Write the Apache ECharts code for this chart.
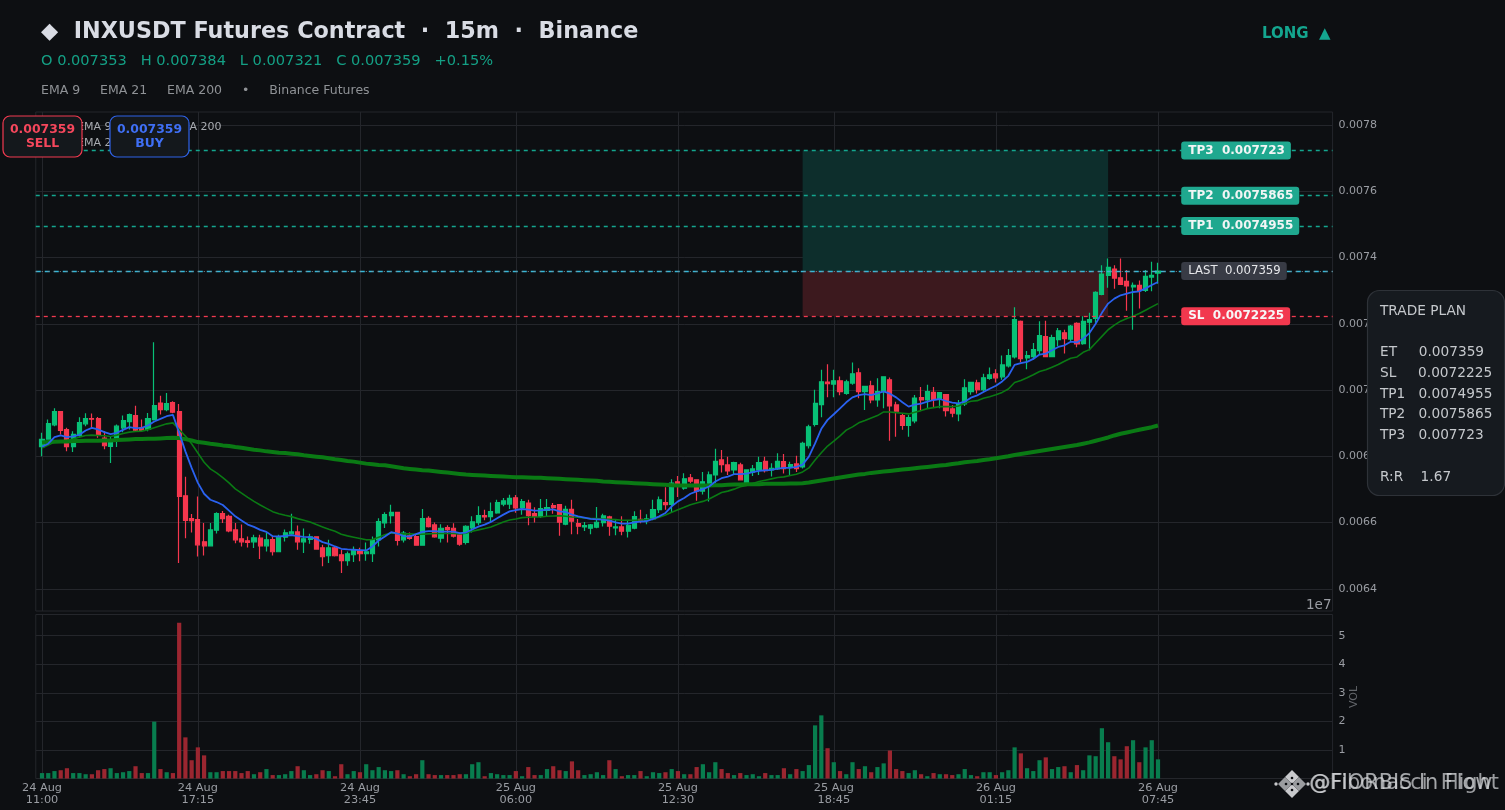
<!DOCTYPE html>
<html><head><meta charset="utf-8">
<style>html,body{margin:0;padding:0;background:#0d0f12}#c{width:1505px;height:810px}</style>
<script src="https://cdn.jsdelivr.net/npm/echarts@6/dist/echarts.min.js"></script>
</head><body><div id="c"></div>
<script>
// prices in millionths of USDT (1e-6), volumes in units of 1e7
const opens=[6829,6852,6895,6935,6881,6829,6863,6898,6914,6914,
6855,6830,6855,6886,6905,6923,6886,6881,6911,6961,
6941,6962,6935,6681,6612,6609,6542,6530,6577,6627,
6619,6578,6551,6545,6542,6553,6530,6549,6512,6556,
6566,6572,6542,6549,6557,6524,6500,6524,6503,6485,
6503,6514,6506,6506,6548,6599,6621,6631,6548,6560,
6558,6532,6613,6593,6553,6585,6583,6563,6540,6584,
6600,6621,6618,6629,6656,6656,6675,6645,6659,6627,
6619,6637,6651,6654,6595,6640,6597,6587,6583,6586,
6600,6617,6584,6587,6574,6583,6610,6607,6611,6639,
6660,6655,6723,6704,6735,6729,6695,6719,6744,6789,
6774,6759,6774,6721,6752,6759,6785,6759,6762,6784,
6768,6777,6768,6832,6896,6956,7024,7018,7028,6990,
7021,7052,6995,7013,6970,6995,7031,6955,6923,6893,
6907,6977,6970,6993,6972,6986,6943,6928,6958,6995,
7022,7001,7035,7049,7040,7073,7100,7207,7097,7101,
7119,7161,7101,7152,7173,7154,7201,7140,7205,7216,
7289,7346,7365,7339,7328,7311,7316,7301,7341,7353];
const closes=[6851,6899,6935,6878,6829,6866,6902,6914,6912,6866,
6832,6842,6891,6908,6926,6879,6878,6914,6953,6941,
6959,6933,6679,6607,6606,6533,6530,6578,6627,6612,
6575,6548,6542,6540,6554,6530,6548,6512,6556,6569,
6572,6542,6551,6557,6520,6497,6524,6500,6485,6506,
6516,6506,6512,6548,6603,6624,6631,6546,6568,6552,
6532,6612,6588,6557,6583,6579,6559,6535,6589,6602,
6621,6617,6633,6660,6666,6673,6644,6663,6621,6619,
6642,6645,6645,6601,6640,6604,6589,6591,6593,6601,
6620,6589,6587,6574,6592,6618,6607,6611,6639,6669,
6654,6719,6712,6732,6725,6695,6723,6744,6785,6775,
6756,6781,6729,6759,6762,6781,6757,6764,6785,6763,
6775,6763,6839,6889,6960,7025,7019,7028,6995,7025,
7049,6995,7011,6970,6995,7040,6952,6936,6893,6917,
6976,6970,6995,6972,6992,6938,6930,6958,7007,7023,
7001,7037,7046,7037,7076,7104,7213,7095,7104,7122,
7164,7101,7158,7179,7155,7193,7139,7207,7213,7295,
7350,7370,7338,7319,7314,7316,7301,7343,7346,7359];
const highs=[6871,6911,6945,6935,6886,6876,6918,6930,6929,6919,
6876,6860,6896,6923,6929,6953,6911,6931,7144,6983,
6991,6966,6958,6738,6626,6679,6599,6599,6631,6635,
6624,6599,6594,6558,6563,6563,6569,6558,6563,6579,
6627,6591,6582,6566,6558,6533,6548,6526,6518,6513,
6528,6524,6540,6558,6613,6631,6654,6631,6575,6570,
6565,6641,6619,6600,6595,6592,6598,6570,6592,6619,
6649,6639,6661,6669,6674,6684,6683,6671,6669,6646,
6671,6671,6659,6654,6651,6669,6611,6602,6596,6647,
6627,6621,6609,6619,6605,6634,6639,6625,6669,6679,
6707,6731,6741,6749,6747,6731,6753,6754,6823,6819,
6799,6784,6781,6761,6774,6799,6799,6779,6809,6807,
6784,6802,6844,6895,7001,7061,7078,7061,7041,7031,
7083,7066,7013,7028,7036,7040,7038,6965,6930,6925,
6985,7009,7016,7009,6992,6988,6955,6970,7033,7023,
7031,7049,7068,7063,7104,7124,7250,7210,7118,7142,
7208,7209,7167,7187,7182,7196,7205,7223,7233,7298,
7377,7397,7377,7397,7362,7325,7331,7362,7387,7384];
const lows=[6800,6850,6891,6866,6815,6813,6858,6891,6886,6856,
6821,6780,6828,6873,6881,6876,6876,6876,6908,6926,
6936,6930,6478,6553,6570,6498,6501,6528,6567,6599,
6571,6538,6528,6525,6523,6490,6513,6501,6511,6543,
6563,6518,6508,6536,6518,6468,6478,6498,6448,6470,
6481,6483,6485,6481,6528,6584,6597,6531,6540,6548,
6530,6530,6585,6554,6540,6540,6555,6530,6534,6570,
6592,6607,6602,6627,6649,6641,6630,6624,6592,6600,
6614,6620,6627,6560,6592,6565,6565,6575,6565,6583,
6588,6560,6562,6562,6555,6580,6598,6595,6607,6629,
6639,6631,6677,6699,6719,6666,6685,6664,6719,6751,
6744,6744,6727,6714,6741,6744,6751,6739,6759,6748,
6743,6753,6763,6824,6890,6918,6978,6978,6984,6986,
7016,6975,6940,6960,6950,6945,6847,6859,6880,6859,
6900,6940,6945,6948,6945,6920,6918,6906,6952,6986,
6990,6996,7031,7023,7031,7068,7095,7084,7063,7092,
7107,7100,7100,7132,7110,7147,7129,7137,7120,7203,
7286,7309,7306,7318,7239,7182,7246,7296,7298,7321];
const volumes=[.19,.19,.26,.29,.36,.19,.19,.15,.15,.29,
.33,.36,.19,.22,.26,.43,.19,.19,1.99,.33,
.22,.19,5.45,1.44,.64,1.09,.81,.22,.22,.26,
.26,.26,.19,.26,.15,.22,.33,.12,.12,.15,
.26,.43,.29,.12,.15,.29,.26,.08,.5,.15,
.26,.22,.5,.29,.4,.29,.26,.29,.15,.08,
.15,.64,.15,.12,.12,.12,.12,.15,.15,.5,
.57,.08,.19,.15,.12,.12,.26,.08,.4,.12,
.12,.33,.43,.29,.26,.6,.29,.12,.15,.22,
.12,.64,.33,.08,.12,.12,.26,.08,.22,.19,
.22,.33,.26,.15,.15,.4,.5,.22,.57,.33,
.19,.12,.19,.12,.15,.08,.19,.12,.12,.36,
.15,.33,.26,.47,1.86,2.21,1.06,.57,.26,.15,
.57,.33,.43,.22,.4,.53,.98,.33,.26,.19,
.29,.15,.08,.19,.15,.15,.12,.15,.33,.12,
.08,.22,.22,.12,.22,.29,1.09,.88,.36,.26,
.64,.74,.33,.4,.43,.22,.47,.29,.81,.78,
1.76,1.27,.78,.67,1.13,1.34,.57,1.09,1.34,.67];
const ema9=[6829,6838,6858,6863,6858,6860,6865,6878,6886,6881,
6873,6867,6871,6880,6888,6885,6886,6893,6905,6913,
6921,6925,6871,6815,6765,6720,6687,6669,6662,6653,
6636,6619,6606,6594,6587,6578,6572,6559,6558,6560,
6562,6559,6557,6556,6551,6541,6536,6528,6521,6519,
6518,6517,6516,6528,6546,6558,6571,6567,6559,6558,
6565,6572,6574,6574,6573,6573,6573,6568,6570,6579,
6588,6594,6602,6613,6624,6634,6638,6641,6639,6636,
6637,6639,6640,6634,6632,6624,6619,6615,6611,6610,
6609,6606,6601,6597,6597,6601,6603,6604,6611,6619,
6629,6649,6664,6674,6687,6694,6701,6709,6724,6734,
6739,6746,6746,6748,6752,6756,6758,6759,6763,6765,
6765,6768,6775,6799,6839,6883,6910,6927,6945,6963,
6978,6985,6988,6985,6990,6996,6989,6978,6963,6950,
6956,6959,6965,6970,6973,6967,6962,6960,6965,6977,
6984,6994,7004,7013,7026,7043,7076,7081,7085,7094,
7107,7110,7120,7130,7135,7146,7144,7155,7172,7200,
7233,7261,7276,7286,7291,7296,7298,7307,7317,7326];
const ema21=[6825,6834,6843,6845,6848,6852,6858,6863,6864,6863,
6862,6860,6864,6869,6873,6875,6876,6880,6886,6892,
6898,6901,6881,6861,6838,6810,6782,6762,6750,6736,
6720,6702,6689,6676,6664,6653,6643,6633,6627,6622,
6618,6612,6607,6602,6594,6587,6580,6574,6565,6560,
6556,6552,6548,6549,6556,6563,6569,6567,6566,6566,
6565,6565,6566,6567,6567,6567,6567,6566,6568,6574,
6578,6582,6587,6594,6602,6608,6611,6615,6616,6617,
6617,6619,6620,6621,6619,6617,6616,6614,6612,6612,
6611,6610,6609,6607,6607,6607,6608,6609,6611,6616,
6623,6631,6639,6646,6654,6659,6664,6671,6681,6691,
6695,6701,6708,6712,6718,6724,6728,6732,6736,6738,
6742,6746,6753,6765,6789,6811,6831,6846,6862,6879,
6889,6901,6908,6916,6923,6934,6934,6932,6930,6928,
6933,6938,6944,6947,6950,6950,6950,6952,6960,6966,
6968,6975,6980,6986,6993,7003,7023,7029,7037,7046,
7056,7061,7069,7077,7087,7096,7100,7114,7122,7142,
7162,7182,7196,7208,7216,7223,7231,7241,7251,7261];
const ema200=[6842,6843,6844,6845,6845,6846,6846,6847,6847,6847,
6848,6848,6849,6850,6851,6852,6852,6853,6853,6854,
6855,6856,6855,6852,6848,6843,6841,6838,6836,6833,
6831,6828,6826,6823,6820,6818,6815,6813,6811,6810,
6808,6806,6803,6801,6799,6797,6794,6791,6789,6786,
6784,6781,6778,6776,6774,6773,6770,6767,6764,6762,
6760,6758,6757,6755,6753,6751,6749,6747,6745,6744,
6743,6742,6741,6740,6739,6738,6737,6737,6736,6735,
6735,6734,6733,6732,6731,6730,6729,6728,6727,6726,
6724,6723,6722,6721,6720,6719,6718,6717,6716,6715,
6714,6713,6712,6712,6712,6712,6712,6712,6713,6713,
6714,6715,6715,6716,6716,6716,6717,6717,6717,6717,
6718,6718,6719,6721,6724,6727,6730,6733,6736,6739,
6742,6745,6747,6750,6752,6754,6756,6758,6760,6762,
6764,6766,6768,6770,6772,6774,6777,6779,6782,6784,
6786,6789,6791,6794,6797,6800,6804,6807,6810,6813,
6816,6819,6822,6825,6828,6831,6834,6838,6842,6847,
6852,6857,6863,6868,6872,6876,6880,6884,6888,6893];
const xTickCandles=[0,25,51,76,102,127,153,179];
const xTickLabels=['24 Aug\n11:00','24 Aug\n17:15','24 Aug\n23:45','25 Aug\n06:00','25 Aug\n12:30','25 Aug\n18:45','26 Aug\n01:15','26 Aug\n07:45'];
const yTicks=[6400,6600,6800,7000,7200,7400,7600,7800];
const volTicks=[1,2,3,4,5];
const entry=7359, stop=7222.5, tp1=7495.5, tp2=7586.5, tp3=7723;

const BG='#0d0f12',GRID='#24262b',AXT='#9a9da3',UP='#08c076',DOWN='#f5374e',TEAL='#14a68f',FONT='"DejaVu Sans"';
const PAD=1, TOTAL=209;               // empty slots before and after the candles
const cats=Array.from({length:TOTAL},(_,k)=>'s'+k);
const labelByIdx={};xTickCandles.forEach((c,k)=>labelByIdx[c+PAD]=xTickLabels[k]);
const isTick=i=>labelByIdx[i]!==undefined;
const padL=a=>[...Array(PAD).fill(null),...a];
const candle=opens.map((o,i)=>[o,closes[i],lows[i],highs[i]]);
const colored=volumes.map((v,i)=>({value:v,up:closes[i]>=opens[i]}));

const lineStyle=(c,w,t)=>({color:c,width:w,type:t,opacity:1});
function badge(val,text,bg,fg,bold,size){return {coord:[183,val],symbol:'circle',symbolSize:1,itemStyle:{color:'transparent'},
 label:{show:true,position:'right',distance:4,formatter:text,backgroundColor:bg,color:fg,fontFamily:FONT,fontSize:size||12,fontWeight:bold?'bold':'normal',padding:[3,6,3,7],borderRadius:3}};}

const xa=(gi,showL)=>({type:'category',gridIndex:gi,data:cats,boundaryGap:false,
  axisLine:{show:false},axisTick:{show:false},
  splitLine:{show:true,interval:(i)=>isTick(i),lineStyle:{color:GRID,width:1}},
  axisLabel:{show:showL,interval:(i)=>isTick(i),formatter:(v,i)=>labelByIdx[i]||'',color:AXT,fontFamily:FONT,fontSize:11.3,lineHeight:11.5,margin:4,hideOverlap:false}});

const option={
 backgroundColor:BG,animation:false,
 grid:[{left:35.77,width:1296.8,top:112,height:499,show:true,borderColor:GRID,borderWidth:1,backgroundColor:'transparent'},
       {left:35.77,width:1296.8,top:614.5,height:164,show:true,borderColor:GRID,borderWidth:1,backgroundColor:'transparent'}],
 xAxis:[xa(0,false),xa(1,true)],
 yAxis:[{type:'value',gridIndex:0,position:'right',min:6333.2,max:7839.2,scale:true,
   axisLine:{show:false},axisTick:{show:false,customValues:yTicks},
   splitLine:{show:true,lineStyle:{color:GRID,width:1}},
   axisLabel:{customValues:yTicks,formatter:v=>(v/1e6).toFixed(4),color:AXT,fontFamily:FONT,fontSize:11,margin:6,padding:[4,0,0,0]}},
  {type:'value',gridIndex:1,position:'right',min:0,max:5.74,
   axisLine:{show:false},axisTick:{show:false,customValues:volTicks},
   splitLine:{show:true,lineStyle:{color:GRID,width:1}},
   axisLabel:{customValues:volTicks,formatter:v=>String(v),color:AXT,fontFamily:FONT,fontSize:11,margin:6,padding:[2,0,0,0]}}],
 series:[
  {type:'candlestick',name:'candles',xAxisIndex:0,yAxisIndex:0,z:3,barWidth:4.6,
   data:[...Array(PAD).fill(['-','-','-','-']),...candle],
   itemStyle:{color:UP,color0:DOWN,borderColor:UP,borderColor0:DOWN,borderWidth:1.2},
   markArea:{silent:true,z:1,data:[
     [{xAxis:123,yAxis:tp3,itemStyle:{color:'#0d2e2c',opacity:1}},{xAxis:172,yAxis:entry}],
     [{xAxis:123,yAxis:entry,itemStyle:{color:'#3c191e',opacity:1}},{xAxis:172,yAxis:stop}]]}},
  {type:'line',name:'EMA 200',xAxisIndex:0,yAxisIndex:0,z:4,data:padL(ema200),showSymbol:false,symbol:'none',lineStyle:{color:'#0a7a14',width:4}},
  {type:'line',name:'EMA 21',xAxisIndex:0,yAxisIndex:0,z:5,data:padL(ema21),showSymbol:false,symbol:'none',lineStyle:{color:'#0a7a14',width:1.6}},
  {type:'line',name:'EMA 9',xAxisIndex:0,yAxisIndex:0,z:6,data:padL(ema9),showSymbol:false,symbol:'none',lineStyle:{color:'#2a62f0',width:1.8},
   markLine:{silent:true,symbol:'none',z:7,precision:1,label:{show:false},data:[
     {yAxis:tp3,lineStyle:lineStyle(TEAL,1.3,[4,4])},
     {yAxis:tp2,lineStyle:lineStyle(TEAL,1.3,[4,4])},
     {yAxis:tp1,lineStyle:lineStyle(TEAL,1.3,[4,4])},
     {yAxis:entry,lineStyle:lineStyle('#36b7d8',1.3,[5,4])},
     {yAxis:entry,lineStyle:lineStyle('#8a8d92',1,[1,5])},
     {yAxis:stop,lineStyle:lineStyle('#f23a50',1.3,[4,4])}]},
   markPoint:{silent:true,z:8,data:[
     badge(tp3,'TP3  0.007723','#1fa88f','#f2f5f5',true),
     badge(tp2,'TP2  0.0075865','#1fa88f','#f2f5f5',true),
     badge(tp1,'TP1  0.0074955','#1fa88f','#f2f5f5',true),
     badge(entry,'LAST  0.007359','#383b45','#e6e7ea',false,11.7),
     badge(stop,'SL  0.0072225','#f2384e','#f7f7f7',true)]}},
  {type:'bar',name:'VOL',xAxisIndex:1,yAxisIndex:1,barWidth:4.2,z:3,
   data:[null,...colored.map(d=>d.value)],
   itemStyle:{color:p=>colored[p.dataIndex-PAD]&&colored[p.dataIndex-PAD].up?'#087d4e':'#9b2630'}}
 ],
 graphic:{elements:[
  {type:'text',z:50,left:41,top:21,style:{text:'◆  INXUSDT Futures Contract  ·  15m  ·  Binance',fill:'#d9dce4',font:'bold 22.3px '+FONT}},
  {type:'text',z:50,left:41,top:54,style:{text:'O 0.007353   H 0.007384   L 0.007321   C 0.007359   +0.15%',fill:'#14a085',font:'14.6px '+FONT}},
  {type:'text',z:50,left:41,top:84.5,style:{text:'EMA 9     EMA 21     EMA 200     •     Binance Futures',fill:'#8f9296',font:'12.5px '+FONT}},
  {type:'text',z:50,left:1262,top:26.5,style:{text:'LONG  ▲',fill:'#14a68f',font:'bold 15px '+FONT}},
  {type:'text',z:50,left:77,top:122,style:{text:'EMA 9',fill:'#a8abb0',font:'11px '+FONT}},
  {type:'text',z:50,left:77,top:138,style:{text:'EMA 21',fill:'#a8abb0',font:'11px '+FONT}},
  {type:'text',z:50,left:173,top:122,style:{text:'EMA 200',fill:'#a8abb0',font:'11px '+FONT}},
  {type:'rect',z:60,shape:{x:3,y:116,width:79,height:41,r:7},style:{fill:'#14181c',stroke:'#f23a50',lineWidth:1.2}},
  {type:'text',z:61,x:42.5,y:124,style:{text:'0.007359',align:'center',fill:'#f5475c',font:'bold 12.4px '+FONT}},
  {type:'text',z:61,x:42.5,y:138,style:{text:'SELL',align:'center',fill:'#f5475c',font:'bold 12.4px '+FONT}},
  {type:'rect',z:60,shape:{x:110,y:116,width:79,height:41,r:7},style:{fill:'#14181c',stroke:'#2f62e6',lineWidth:1.2}},
  {type:'text',z:61,x:149.5,y:124,style:{text:'0.007359',align:'center',fill:'#3f6ff5',font:'bold 12.4px '+FONT}},
  {type:'text',z:61,x:149.5,y:138,style:{text:'BUY',align:'center',fill:'#3f6ff5',font:'bold 12.4px '+FONT}},
  {type:'text',z:50,left:1306,top:598.5,style:{text:'1e7',fill:AXT,font:'13.5px '+FONT}},
  {type:'text',z:50,x:1354,y:697,rotation:Math.PI/2,style:{text:'VOL',align:'center',verticalAlign:'middle',fill:'#63666b',font:'11px '+FONT}},
  {type:'rect',z:70,shape:{x:1367.5,y:290.5,width:137,height:205,r:12},style:{fill:'#161a1f',stroke:'#2e3238',lineWidth:1.2}},
  {type:'text',z:71,x:1380,y:301,style:{text:'TRADE PLAN\n\nET     0.007359\nSL     0.0072225\nTP1   0.0074955\nTP2   0.0075865\nTP3   0.007723\n\nR:R    1.67',fill:'#c5c8cc',font:'13.7px '+FONT,lineHeight:20.7}},
  // watermark logo and overlapped handles
  {type:'polygon',z:80,shape:{points:[[1292,770],[1299,777],[1292,784],[1285,777]]},style:{fill:'#c8c9cc'}},
  {type:'polygon',z:80,shape:{points:[[1292,784],[1299,791],[1292,798],[1285,791]]},style:{fill:'#c8c9cc'}},
  {type:'polygon',z:80,shape:{points:[[1285,777],[1292,784],[1285,791],[1278,784]]},style:{fill:'#9a9c9f'}},
  {type:'polygon',z:80,shape:{points:[[1299,777],[1306,784],[1299,791],[1292,784]]},style:{fill:'#9a9c9f'}},
  {type:'circle',z:81,shape:{cx:1276,cy:784,r:1.7},style:{fill:'#c8c9cc'}},
  {type:'circle',z:81,shape:{cx:1308,cy:784,r:1.7},style:{fill:'#c8c9cc'}},
  {type:'circle',z:81,shape:{cx:1286,cy:784,r:1.3},style:{fill:'#0d0f12'}},
  {type:'circle',z:81,shape:{cx:1292,cy:784,r:1.3},style:{fill:'#0d0f12'}},
  {type:'circle',z:81,shape:{cx:1298,cy:784,r:1.3},style:{fill:'#0d0f12'}},
  {type:'circle',z:81,shape:{cx:1292,cy:778,r:1.3},style:{fill:'#0d0f12'}},
  {type:'circle',z:81,shape:{cx:1292,cy:790,r:1.3},style:{fill:'#0d0f12'}},
  {type:'text',z:82,x:1309,y:773,style:{text:'@FIORBIS In Flow',fill:'rgba(215,217,220,0.75)',font:'20.8px '+FONT}},
  {type:'text',z:82,x:1310,y:773,style:{text:'@Fibonacci  Flight',fill:'rgba(215,217,220,0.7)',font:'20.8px '+FONT}}
 ]}
};
const chart=echarts.init(document.getElementById('c'),null,{renderer:'canvas',width:1505,height:810});
chart.setOption(option);
</script></body></html>
